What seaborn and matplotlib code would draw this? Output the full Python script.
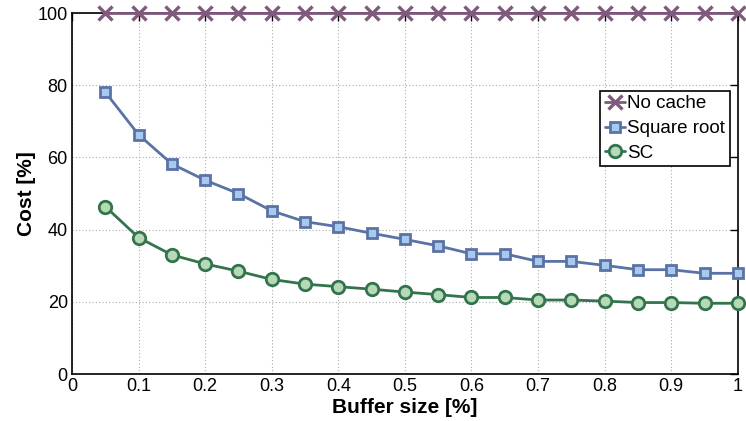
import numpy as np
import pandas as pd
import seaborn as sns
from matplotlib import pyplot as plt

# Data
buffer_size = [0.05, 0.10, 0.15, 0.20, 0.25, 0.30, 0.35, 0.40, 0.45, 0.50,
               0.55, 0.60, 0.65, 0.70, 0.75, 0.80, 0.85, 0.90, 0.95, 1.00]
no_cache = [100] * 20
square_root = [78.1, 66.3, 58.2, 53.7, 50.0, 45.2, 42.2, 40.8, 39.0, 37.3,
               35.5, 33.3, 33.3, 31.2, 31.2, 30.1, 28.9, 28.9, 27.9, 27.9]
sc = [46.4, 37.8, 33.0, 30.5, 28.5, 26.2, 24.9, 24.2, 23.5, 22.7,
      22.0, 21.2, 21.2, 20.5, 20.5, 20.2, 19.8, 19.8, 19.6, 19.6]

x_ticks = [0, 0.1, 0.2, 0.3, 0.4, 0.5, 0.6, 0.7, 0.8, 0.9, 1]
x_tick_labels = ['0', '0.1', '0.2', '0.3', '0.4', '0.5', '0.6', '0.7', '0.8', '0.9', '1']
y_ticks = [0, 20, 40, 60, 80, 100]

df = pd.DataFrame({'Buffer': buffer_size, 'No cache': no_cache,
                   'Square root': square_root, 'SC': sc})

sns.set_style('white')
plt.rcParams['font.family'] = ['Liberation Sans', 'DejaVu Sans']
plt.rcParams['text.color'] = 'black'

fig = plt.figure(figsize=(7.46, 4.21), dpi=100)
ax = fig.add_axes([0.0965, 0.1116, 0.8925, 0.8574])

sns.lineplot(data=df, x='Buffer', y='No cache', ax=ax, color='#7f5a7c',
             marker='x', markersize=10, markeredgecolor='#7f5a7c',
             markeredgewidth=2.4, linewidth=2,
             label='No cache', clip_on=False, zorder=5)
sns.lineplot(data=df, x='Buffer', y='Square root', ax=ax, color='#5a73a6',
             marker='s', markersize=7, markerfacecolor='#a9c8ee',
             markeredgecolor='#5a73a6', markeredgewidth=2, linewidth=2,
             label='Square root', clip_on=False, zorder=5)
sns.lineplot(data=df, x='Buffer', y='SC', ax=ax, color='#33744c',
             marker='o', markersize=9, markerfacecolor='#b6dab8',
             markeredgecolor='#33744c', markeredgewidth=2, linewidth=2,
             label='SC', clip_on=False, zorder=5)

ax.set_xlim(0, 1)
ax.set_ylim(0, 100)
ax.set_xticks(x_ticks)
ax.set_xticklabels(x_tick_labels)
ax.set_yticks(y_ticks)
ax.tick_params(direction='in', length=6, width=1, labelsize=13, colors='black',
               top=True, right=True, pad=3)

for side in ['left', 'right', 'top', 'bottom']:
    ax.spines[side].set_visible(True)
    ax.spines[side].set_color('black')
    ax.spines[side].set_linewidth(1.2)

ax.grid(True, color='#aaaaaa', linestyle=(0, (1, 2)), linewidth=0.8)

ax.set_xlabel('Buffer size [%]', fontsize=15, fontweight='bold', labelpad=2,
              color='black')
ax.set_ylabel('Cost [%]', fontsize=15, fontweight='bold', labelpad=1,
              color='black')

leg = ax.legend(loc='upper right', bbox_to_anchor=(0.988, 0.785), fontsize=13.5,
                frameon=True, fancybox=False, edgecolor='black', framealpha=1,
                handlelength=1.1, handletextpad=0.1, borderpad=0.25,
                labelspacing=0.4, borderaxespad=0)
leg.get_frame().set_linewidth(1.2)
for t in leg.get_texts():
    t.set_color('black')

plt.savefig('out.png', dpi=100)
